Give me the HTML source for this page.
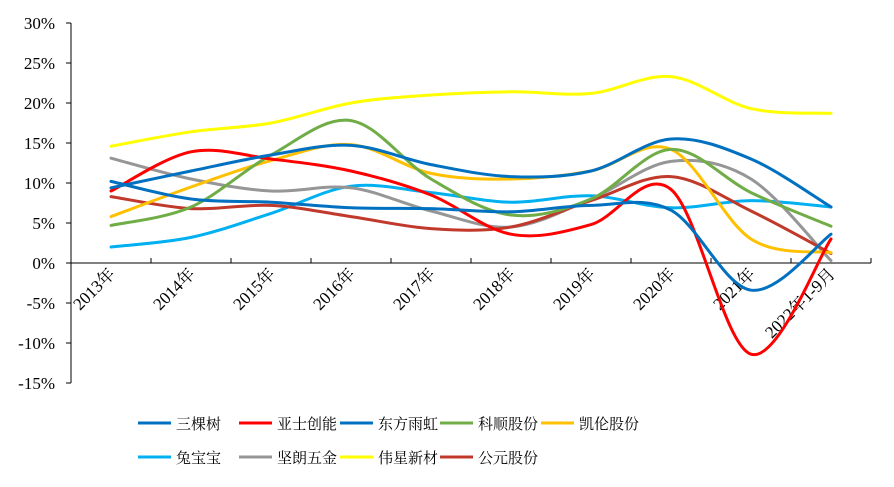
<!DOCTYPE html>
<html><head><meta charset="utf-8"><style>
body{margin:0;background:#fff;}
svg text{font-family:"Liberation Serif","Noto Serif CJK SC",serif;}
</style></head><body>
<svg id="chart" width="894" height="482" xmlns="http://www.w3.org/2000/svg"></svg>
<script>
const categories=["2013年","2014年","2015年","2016年","2017年","2018年","2019年","2020年","2021年","2022年1-9月"];
const yTicks=[30,25,20,15,10,5,0,-5,-10,-15];
const seriesNames=["三棵树","亚士创能","东方雨虹","科顺股份","凯伦股份","兔宝宝","坚朗五金","伟星新材","公元股份"];
const seriesColors=["#0070C0","#FF0000","#0070C0","#70AD47","#FFC000","#00B0F0","#969696","#FFFF00","#C0392B"];
const s_sankeshu=[10.2,8.0,7.6,6.9,6.8,6.4,7.2,6.6,-3.4,3.6];
const s_yashi=[9.0,13.9,13.0,11.5,8.5,3.6,4.8,9.2,-11.4,3.0];
const s_dongfang=[9.4,11.5,13.5,14.7,12.3,10.8,11.5,15.5,13.0,7.0];
const s_keshun=[4.7,7.0,13.5,17.8,10.5,6.0,8.0,14.2,8.8,4.6];
const s_kailun=[5.8,9.5,12.8,14.8,11.2,10.5,11.5,14.2,3.0,1.3];
const s_tubaobao=[2.0,3.2,6.2,9.6,8.8,7.6,8.4,6.9,7.8,7.0];
const s_jianlang=[13.1,10.5,9.0,9.4,6.5,4.5,8.0,12.7,10.5,0.3];
const s_weixing=[14.6,16.4,17.5,20.0,21.0,21.4,21.2,23.3,19.3,18.7];
const s_gongyuan=[8.3,6.8,7.2,5.8,4.3,4.5,7.8,10.8,6.5,1.2];
const seriesValues=[s_sankeshu,s_yashi,s_dongfang,s_keshun,s_kailun,s_tubaobao,s_jianlang,s_weixing,s_gongyuan];

const NS="http://www.w3.org/2000/svg";
const svg=document.getElementById('chart');
const X0=71,X1=871,Y0=23,Y1=383,YMAX=30,YMIN=-15;
const band=(X1-X0)/categories.length;
function xPos(i){return X0+band*(i+0.5);}
function yPos(v){return Y0+(YMAX-v)/(YMAX-YMIN)*(Y1-Y0);}
function mk(tag,attrs){const e=document.createElementNS(NS,tag);for(const k in attrs)e.setAttribute(k,attrs[k]);svg.appendChild(e);return e;}

let ya=mk('line',{x1:X0,y1:Y0,x2:X0,y2:Y1,stroke:'#000','stroke-width':1});


yTicks.forEach(v=>{
  const t=mk('line',{x1:X0-5,y1:yPos(v),x2:X0,y2:yPos(v),stroke:'#000'});
  
  
  const l=mk('text',{x:55,y:yPos(v)+6,'text-anchor':'end','font-size':17});
  l.textContent=v+'%';
  
  
});
let xa=mk('line',{x1:X0,y1:yPos(0),x2:X1,y2:yPos(0),stroke:'#000','stroke-width':1});


for(let i=1;i<=categories.length;i++){
  const x=X0+band*i;
  const t=mk('line',{x1:x,y1:yPos(0),x2:x,y2:yPos(0)-5,stroke:'#000'});
  
  
}
categories.forEach((c,i)=>{
  const x=xPos(i)+5,y=yPos(0)+12;
  const l=mk('text',{x:x,y:y,'text-anchor':'end','font-size':17,transform:`rotate(-45 ${x} ${y})`});
  l.textContent=c;
  
  
});
function smoothPath(vals){
  const p=vals.map((v,i)=>[xPos(i),yPos(v)]);
  let d=`M${p[0][0]},${p[0][1]}`;
  for(let i=0;i<p.length-1;i++){
    const p0=p[i-1]||p[i],p1=p[i],p2=p[i+1],p3=p[i+2]||p[i+1];
    const t=6;
    const c1=[p1[0]+(p2[0]-p0[0])/t,p1[1]+(p2[1]-p0[1])/t];
    const c2=[p2[0]-(p3[0]-p1[0])/t,p2[1]-(p3[1]-p1[1])/t];
    d+=` C${c1[0]},${c1[1]} ${c2[0]},${c2[1]} ${p2[0]},${p2[1]}`;
  }
  return d;
}
const order=[7,5,6,8,4,3,1,0,2];
order.forEach(k=>{
  const path=mk('path',{d:smoothPath(seriesValues[k]),fill:'none',stroke:seriesColors[k],'stroke-width':3,'stroke-linecap':'round'});
  
  
});
const legX=[138,239,340,440,541];
const legY=[423,457];
seriesNames.forEach((n,k)=>{
  const col=k%5,row=Math.floor(k/5);
  const x=legX[col],y=legY[row];
  const ln=mk('line',{x1:x,y1:y,x2:x+33,y2:y,stroke:seriesColors[k],'stroke-width':3});
  
  
  const tx=mk('text',{x:x+38,y:y+6,'font-size':15});
  tx.textContent=n;
  
  
});
</script>
</body></html>
